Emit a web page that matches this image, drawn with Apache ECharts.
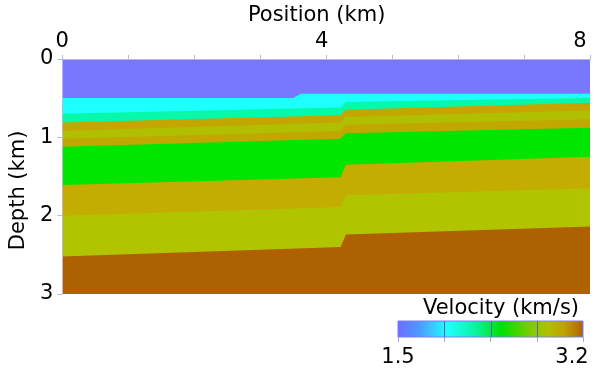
<!DOCTYPE html>
<html>
<head>
<meta charset="utf-8">
<script src="https://cdn.jsdelivr.net/npm/echarts@6/dist/echarts.min.js"></script>
<style>
  html, body { margin: 0; padding: 0; background: #ffffff; }
  #chart { width: 602px; height: 374px; }
</style>
</head>
<body>
<div id="chart"></div>
<script>
// Layered velocity section offset by a fault near 4.2 km.

// Axis ticks
const positionLabels = [0, 4, 8];
const depthTicks = [0, 1, 2, 3];
const velocityRange = [1.5, 3.2];
const colorbarTicks = [1.5, 1.925, 2.35, 2.775, 3.2];

// Model extent (km)
const positionRange = [0, 8];
const depthRange = [0, 3];

// Water bottom: small step between these positions (km), depth west / east of it (km)
const seafloorStepX = [3.5, 3.62];
const seafloorDepth = [0.50, 0.445];

// Fault trace: western and eastern edge of the offset (km)
const faultX = [4.22, 4.30];

// Depth (km) of each interface below the water layer, top to bottom
const horizonWestEdge  = [0.70, 0.81, 0.92, 1.02, 1.12, 1.61, 2.00, 2.52];
const horizonFaultWest = [0.62, 0.72, 0.81, 0.92, 1.02, 1.51, 1.89, 2.40];
const horizonFaultEast = [0.55, 0.65, 0.74, 0.84, 0.95, 1.35, 1.74, 2.24];
const horizonEastEdge  = [0.50, 0.56, 0.66, 0.77, 0.88, 1.25, 1.65, 2.14];

// Fill colour of each layer, top to bottom
const layerColors = [
  '#7878ff', // water
  '#1effff',
  '#06f8aa',
  '#c4a600',
  '#b0c000',
  '#c0a800',
  '#00e600',
  '#c2ad00',
  '#b1c400',
  '#ad6100'
];

// Colour scale of the velocity bar
const colorbarStops = [
  { offset: 0.00, color: '#6c6cff' },
  { offset: 0.12, color: '#4c9cff' },
  { offset: 0.27, color: '#22ffff' },
  { offset: 0.42, color: '#0cf2a0' },
  { offset: 0.56, color: '#00e000' },
  { offset: 0.72, color: '#80cc00' },
  { offset: 0.81, color: '#b0c000' },
  { offset: 0.90, color: '#c0a000' },
  { offset: 1.00, color: '#b06000' }
];

const FONT = 'DejaVu Sans';
const FONT_SIZE = 21;

// Upper boundary of a layer as a list of [position, depth] points
function layerTop(i) {
  if (i === 0) {
    return [[positionRange[0], depthRange[0]], [positionRange[1], depthRange[0]]];
  }
  if (i === 1) {
    return [
      [positionRange[0], seafloorDepth[0]],
      [seafloorStepX[0], seafloorDepth[0]],
      [seafloorStepX[1], seafloorDepth[1]],
      [positionRange[1], seafloorDepth[1]]
    ];
  }
  const k = i - 2;
  return [
    [positionRange[0], horizonWestEdge[k]],
    [faultX[0], horizonFaultWest[k]],
    [faultX[1], horizonFaultEast[k]],
    [positionRange[1], horizonEastEdge[k]]
  ];
}

const chart = echarts.init(document.getElementById('chart'), null, { renderer: 'canvas' });

const textBase = { fontFamily: FONT, fontSize: FONT_SIZE, color: '#000' };

chart.setOption({
  animation: false,
  backgroundColor: '#ffffff',
  title: {
    text: 'Velocity (km/s)',
    left: 501,
    top: 298,
    textAlign: 'center',
    padding: 0,
    textStyle: Object.assign({ fontWeight: 'normal' }, textBase)
  },
  grid: [
    { left: 57, top: 58, width: 533, height: 236, containLabel: false },
    { left: 398, top: 321, width: 185, height: 16, containLabel: false }
  ],
  xAxis: [
    {
      gridIndex: 0,
      type: 'value',
      position: 'top',
      min: positionRange[0],
      max: positionRange[1],
      interval: 1,
      name: 'Position (km)',
      nameLocation: 'middle',
      nameGap: 31,
      nameTextStyle: Object.assign({ padding: [0, 19, 0, 0] }, textBase),
      axisLine: { show: true, lineStyle: { color: '#9c9cf4', width: 1 } },
      axisTick: { show: true, inside: false, length: 4, lineStyle: { color: '#b4bce8' } },
      axisLabel: {
        margin: 7,
        formatter: v => positionLabels.includes(v) ? '{p' + v + '|' + v + '}' : '',
        rich: {
          p0: Object.assign({}, textBase),
          p4: Object.assign({ padding: [0, 9, 0, 0] }, textBase),
          p8: Object.assign({ padding: [0, 20, 0, 0] }, textBase)
        }
      },
      splitLine: { show: false },
      z: 5
    },
    {
      gridIndex: 0,
      type: 'value',
      position: 'bottom',
      min: positionRange[0],
      max: positionRange[1],
      axisLine: { show: true, lineStyle: { color: '#bcb4dc', width: 1 } },
      axisTick: { show: false },
      axisLabel: { show: false },
      splitLine: { show: false },
      z: 5
    },
    {
      gridIndex: 1,
      type: 'value',
      position: 'bottom',
      min: velocityRange[0],
      max: velocityRange[1],
      axisLine: { show: false },
      axisTick: { show: true, length: 5, customValues: colorbarTicks, lineStyle: { color: '#a4ace0' } },
      axisLabel: {
        customValues: velocityRange,
        margin: 10,
        formatter: v => {
          const s = v.toFixed(1);
          return v === velocityRange[1] ? '{hi|' + s + '}' : '{lo|' + s + '}';
        },
        rich: {
          lo: Object.assign({}, textBase),
          hi: Object.assign({ padding: [0, 22, 0, 0] }, textBase)
        }
      },
      splitLine: { show: false }
    }
  ],
  yAxis: [
    {
      gridIndex: 0,
      type: 'value',
      inverse: true,
      min: depthRange[0],
      max: depthRange[1],
      interval: 1,
      name: 'Depth (km)',
      nameLocation: 'middle',
      nameGap: 21,
      nameRotate: 90,
      nameTextStyle: Object.assign({ padding: [0, 28, 0, 0] }, textBase),
      axisLine: { show: true, lineStyle: { color: '#9c9cf4', width: 1 } },
      axisTick: { show: true, inside: false, length: 5, lineStyle: { color: '#b4bce8' } },
      axisLabel: Object.assign({
        margin: 9,
        formatter: v => depthTicks.includes(v) ? String(v) : ''
      }, textBase),
      splitLine: { show: false },
      z: 5
    },
    {
      gridIndex: 0,
      type: 'value',
      position: 'right',
      inverse: true,
      min: depthRange[0],
      max: depthRange[1],
      axisLine: { show: true, lineStyle: { color: '#bcb4dc', width: 1 } },
      axisTick: { show: false },
      axisLabel: { show: false },
      splitLine: { show: false },
      z: 5
    },
    {
      gridIndex: 1,
      type: 'value',
      min: 0,
      max: 1,
      show: false
    }
  ],
  series: [
    {
      // velocity layers, drawn top-down so each one covers the section below its upper interface
      type: 'custom',
      xAxisIndex: 0,
      yAxisIndex: 0,
      clip: true,
      data: layerColors.map(() => [positionRange[0], depthRange[0]]),
      renderItem: (params, api) => {
        const i = params.dataIndex;
        const outline = layerTop(i).concat([
          [positionRange[1], depthRange[1]],
          [positionRange[0], depthRange[1]]
        ]);
        return {
          type: 'polygon',
          shape: { points: outline.map(p => api.coord(p)) },
          style: { fill: layerColors[i] }
        };
      },
      z: 2
    },
    {
      // velocity colour bar
      type: 'custom',
      xAxisIndex: 2,
      yAxisIndex: 2,
      data: [[velocityRange[0], 0]],
      renderItem: (params, api) => {
        const a = api.coord([velocityRange[0], 1]);
        const b = api.coord([velocityRange[1], 0]);
        const children = [{
          type: 'rect',
          shape: { x: a[0], y: a[1], width: b[0] - a[0], height: b[1] - a[1] },
          style: {
            fill: new echarts.graphic.LinearGradient(0, 0, 1, 0, colorbarStops),
            stroke: '#7c7cff',
            lineWidth: 1
          }
        }];
        colorbarTicks.slice(1, -1).forEach(v => {
          const x = Math.round(api.coord([v, 0])[0]) + 0.5;
          children.push({
            type: 'line',
            shape: { x1: x, y1: a[1], x2: x, y2: b[1] },
            style: { stroke: '#5a6aa8', lineWidth: 1 }
          });
        });
        return { type: 'group', children: children };
      }
    }
  ]
});
</script>
</body>
</html>
